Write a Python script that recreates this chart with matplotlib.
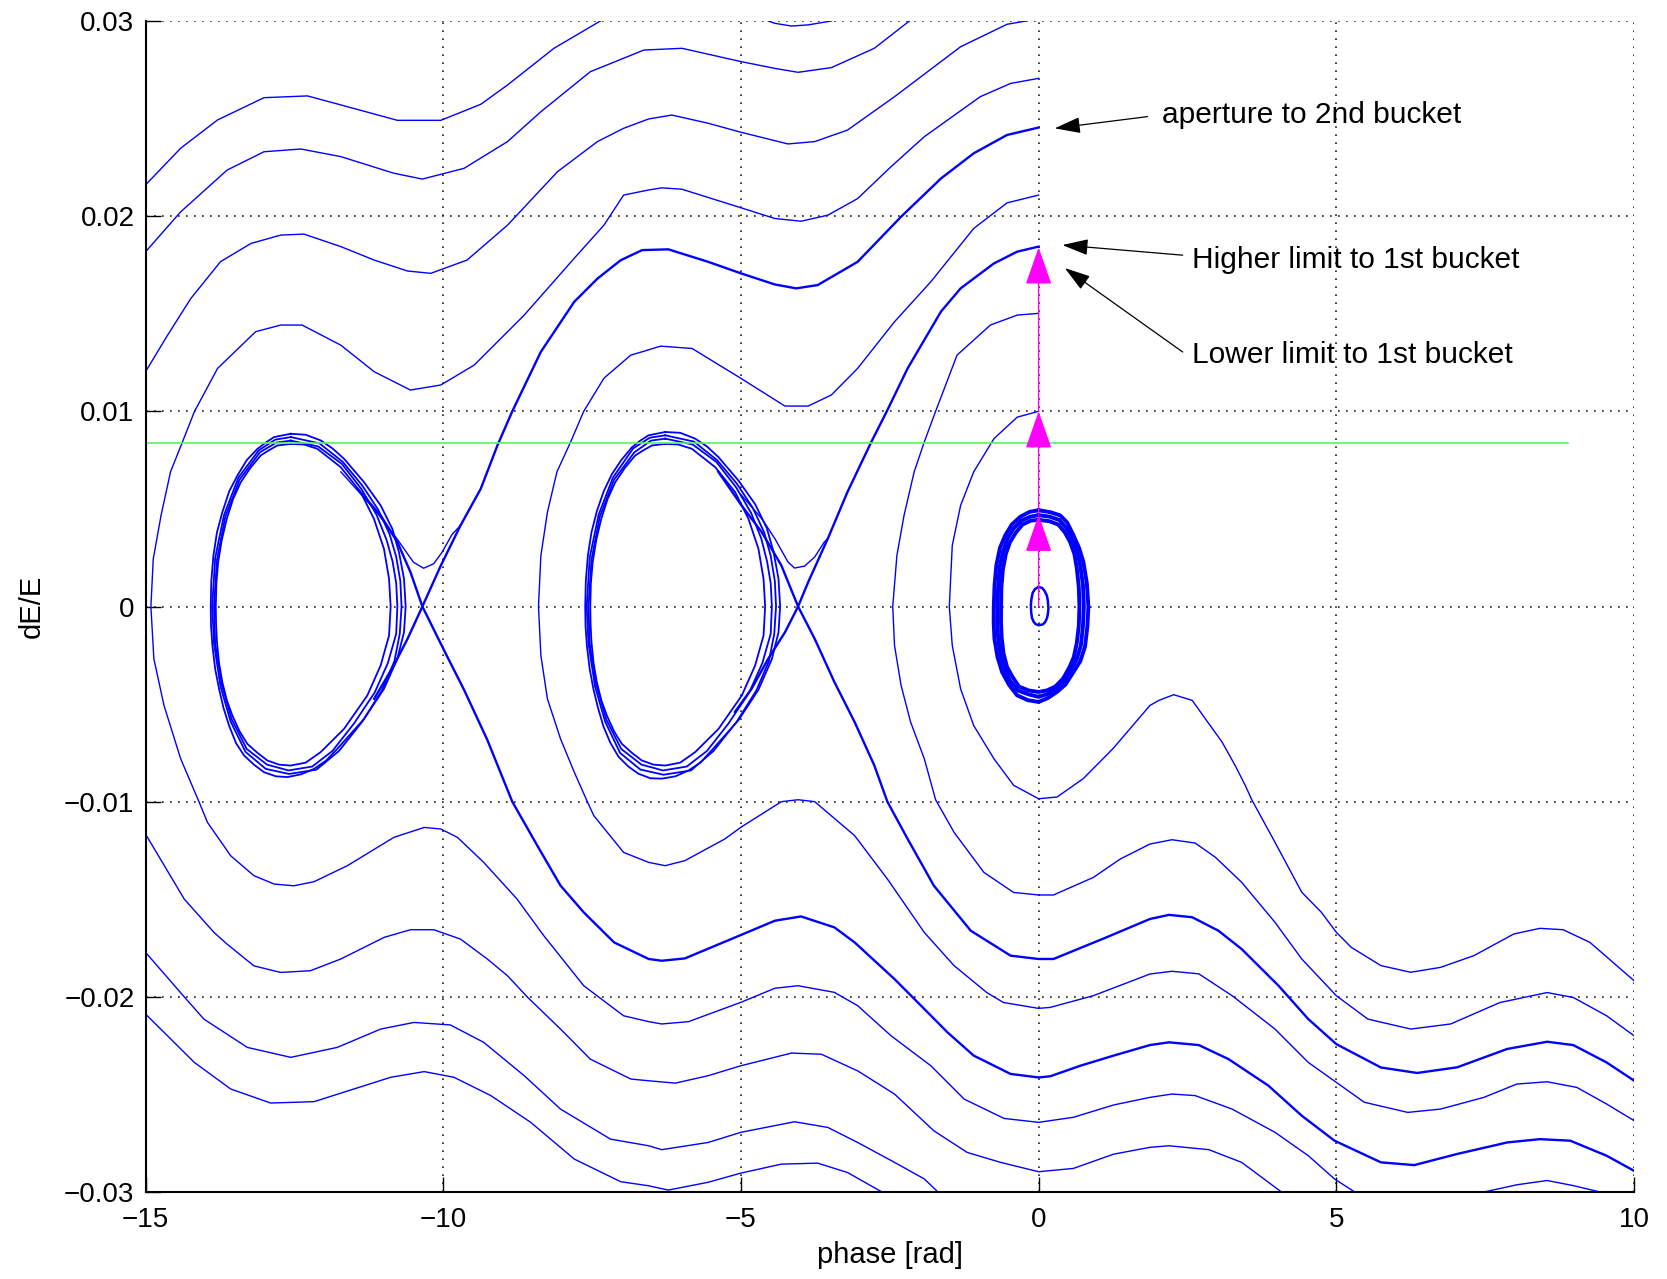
import matplotlib.pyplot as plt

plt.rcParams['font.family'] = ['Liberation Sans', 'DejaVu Sans']

# trajectories as (phase, dE/E) points
curve_A = [(-15.0, 0.0216), (-14.41, 0.02348), (-13.79, 0.02493), (-13.01, 0.02607), (-12.28, 0.02616),
           (-11.72, 0.0257), (-10.77, 0.02491), (-10.04, 0.02491), (-9.37, 0.02573), (-8.92, 0.02672),
           (-8.14, 0.0286), (-7.36, 0.0300)]
curve_A2 = [(-4.54, 0.0300), (-4.43, 0.02988), (-4.15, 0.02974), (-3.87, 0.0298), (-3.48, 0.0300)]
curve_B = [(-15.0, 0.01817), (-14.41, 0.02022), (-13.63, 0.02236), (-13.01, 0.0233), (-12.39, 0.02344),
           (-11.72, 0.02305), (-10.83, 0.0222), (-10.35, 0.0219), (-9.65, 0.02245), (-8.92, 0.02382),
           (-8.36, 0.02535), (-7.53, 0.0274), (-6.63, 0.02851), (-5.99, 0.0286), (-5.0, 0.02792),
           (-4.43, 0.02757), (-4.04, 0.02737), (-3.48, 0.02761), (-2.76, 0.0286), (-2.17, 0.0300)]
curve_C = [(-15.0, 0.01203), (-14.63, 0.0139), (-14.24, 0.01578), (-13.74, 0.01767), (-13.23, 0.0186),
           (-12.73, 0.01903), (-12.34, 0.01908), (-11.72, 0.01844), (-11.16, 0.01775), (-10.6, 0.01719),
           (-10.21, 0.01707), (-9.6, 0.01775), (-8.92, 0.01954), (-8.08, 0.02228), (-7.41, 0.02382),
           (-6.97, 0.0245), (-6.55, 0.02498), (-6.16, 0.02518), (-5.55, 0.02476), (-5.0, 0.0243),
           (-4.21, 0.0237), (-3.76, 0.02382), (-3.21, 0.02441), (-2.42, 0.02612), (-1.31, 0.02868),
           (-0.53, 0.02983), (-0.21, 0.0300)]
curve_D = [(0.0, 0.02706), (-0.47, 0.0268), (-0.98, 0.02612), (-1.92, 0.02407), (-2.48, 0.02253),
           (-3.04, 0.0209), (-3.54, 0.02005), (-3.99, 0.01974), (-4.43, 0.01988), (-5.0, 0.02043),
           (-5.99, 0.02138), (-6.33, 0.02145), (-6.55, 0.02134), (-6.97, 0.02108), (-7.3, 0.01954),
           (-7.8, 0.01784), (-8.64, 0.01493), (-9.48, 0.01237), (-10.04, 0.01135), (-10.55, 0.01109),
           (-11.16, 0.01203), (-11.72, 0.01339), (-12.37, 0.01442), (-12.73, 0.01442), (-13.15, 0.01408),
           (-13.79, 0.0122), (-14.18, 0.00998), (-14.38, 0.00843), (-14.58, 0.0069), (-14.74, 0.00466),
           (-14.87, 0.00244), (-14.91, 0.0), (-14.86, -0.00268), (-14.69, -0.00507), (-14.41, -0.0078),
           (-14.1, -0.01002), (-13.96, -0.01106), (-13.57, -0.01277), (-13.18, -0.01379), (-12.84, -0.01422),
           (-12.51, -0.01431), (-12.17, -0.0141), (-11.61, -0.01328), (-10.83, -0.01183), (-10.32, -0.01132),
           (-10.04, -0.0114), (-9.76, -0.01183), (-9.32, -0.01311), (-8.76, -0.01499), (-8.31, -0.01687),
           (-7.64, -0.01943), (-6.97, -0.02097), (-6.55, -0.02127), (-6.33, -0.02139), (-5.88, -0.02127),
           (-5.0, -0.02028), (-4.43, -0.01956), (-4.04, -0.01943), (-3.43, -0.01977), (-3.04, -0.02045),
           (-2.48, -0.02199), (-1.81, -0.02353), (-1.25, -0.02524), (-0.58, -0.02623), (0.0, -0.02643),
           (0.585, -0.02617), (1.26, -0.02554), (1.87, -0.02515), (2.24, -0.02498), (2.63, -0.02506),
           (3.25, -0.02575), (3.97, -0.02694), (4.53, -0.02814), (4.97, -0.02933), (5.31, -0.0300)]
curve_E = [(-15.0, -0.01166), (-14.35, -0.01499), (-13.85, -0.0167), (-13.63, -0.0173), (-13.18, -0.01841),
           (-12.73, -0.01875), (-12.23, -0.01866), (-11.72, -0.01806), (-10.99, -0.01695), (-10.55, -0.01656),
           (-10.16, -0.01656), (-9.71, -0.01704), (-9.26, -0.01806), (-8.92, -0.01892), (-8.59, -0.02),
           (-8.03, -0.02165), (-7.53, -0.02319), (-6.85, -0.02421), (-6.55, -0.0243), (-6.1, -0.02442),
           (-5.55, -0.02404), (-5.0, -0.02353), (-4.15, -0.02288), (-3.65, -0.02294), (-3.04, -0.02379),
           (-2.42, -0.02498), (-1.76, -0.02686), (-1.2, -0.02797), (-0.64, -0.02848), (0.0, -0.02896),
           (0.585, -0.02879), (1.26, -0.02806), (1.87, -0.02771), (2.19, -0.02763), (2.86, -0.02783),
           (3.41, -0.02848), (4.08, -0.0300)]
curve_F = [(-15.0, -0.01772), (-14.35, -0.02), (-14.02, -0.02114), (-13.29, -0.02259), (-12.56, -0.0231),
           (-11.78, -0.02259), (-11.05, -0.02165), (-10.49, -0.02131), (-9.88, -0.02144), (-9.32, -0.02233),
           (-8.64, -0.02404), (-8.03, -0.02575), (-7.19, -0.02729), (-6.55, -0.02763), (-6.33, -0.02783),
           (-5.55, -0.02746), (-5.0, -0.02694), (-4.1, -0.0264), (-3.54, -0.02669), (-3.04, -0.02746),
           (-2.42, -0.02848), (-1.92, -0.02933), (-1.69, -0.0300)]
curve_G = [(-15.0, -0.02088), (-14.18, -0.02336), (-13.57, -0.02472), (-12.9, -0.02544), (-12.17, -0.02537),
           (-10.88, -0.02412), (-10.32, -0.02383), (-9.82, -0.02412), (-9.2, -0.02506), (-8.53, -0.02643),
           (-7.8, -0.02831), (-7.02, -0.02947), (-6.55, -0.02968), (-6.22, -0.0299), (-5.55, -0.0295),
           (-5.0, -0.02903), (-4.32, -0.02857), (-3.71, -0.02852), (-3.21, -0.029), (-2.63, -0.0300)]
curve_G2 = [(7.48, -0.0300), (8.03, -0.02963), (8.54, -0.02941), (8.98, -0.02967), (9.43, -0.0300)]
curve_U5 = [(0.0, 0.02108), (-0.53, 0.02068), (-1.09, 0.01937), (-1.81, 0.01664), (-2.42, 0.01459),
            (-3.04, 0.0122), (-3.48, 0.01084), (-3.87, 0.01027), (-4.26, 0.01027), (-5.0, 0.01169),
            (-5.82, 0.01322), (-6.35, 0.01334), (-6.66, 0.01305), (-6.85, 0.01288), (-7.3, 0.0117),
            (-7.64, 0.0100), (-7.86, 0.00843), (-8.09, 0.0069), (-8.25, 0.00483), (-8.36, 0.0026),
            (-8.4, 0.0), (-8.36, -0.00251), (-8.25, -0.00473), (-8.03, -0.00678), (-7.8, -0.00848),
            (-7.58, -0.0100), (-7.47, -0.01072), (-6.97, -0.0126), (-6.55, -0.01311), (-6.27, -0.01328),
            (-5.94, -0.01302), (-5.27, -0.01191), (-5.0, -0.01131), (-4.32, -0.0100), (-4.04, -0.0099),
            (-3.76, -0.0100), (-3.09, -0.01174), (-2.54, -0.01396), (-1.92, -0.0167), (-1.42, -0.0184),
            (-0.87, -0.01978), (-0.59, -0.02029), (0.0, -0.02059), (0.195, -0.02054), (0.92, -0.01994),
            (1.87, -0.01883), (2.24, -0.01869), (2.69, -0.01882), (3.25, -0.01994), (3.97, -0.02165),
            (4.53, -0.02336), (5.0, -0.02438), (5.47, -0.0254), (6.2, -0.02592), (6.75, -0.02575),
            (7.48, -0.02515), (8.03, -0.02447), (8.54, -0.02435), (9.04, -0.02464), (9.54, -0.02549),
            (10.0, -0.02634)]
curve_V15 = [(0.0, 0.01502), (-0.36, 0.01493), (-0.81, 0.01442), (-1.37, 0.01288), (-1.73, 0.0100),
             (-1.92, 0.00843), (-2.09, 0.0069), (-2.26, 0.00467), (-2.38, 0.00262), (-2.45, 0.0),
             (-2.42, -0.002), (-2.31, -0.00404), (-2.15, -0.00592), (-1.92, -0.0078), (-1.73, -0.0099),
             (-1.42, -0.01157), (-0.92, -0.01362), (-0.42, -0.01465), (0.0, -0.01478), (0.25, -0.01478),
             (0.92, -0.01388), (1.37, -0.01294), (1.87, -0.01217), (2.24, -0.01195), (2.63, -0.01212),
             (2.97, -0.01285), (3.41, -0.01413), (3.97, -0.01618), (4.42, -0.01806), (5.0, -0.01994),
             (5.53, -0.02114), (6.25, -0.02165), (6.92, -0.02139), (7.75, -0.02029), (8.54, -0.01978),
             (8.98, -0.02003), (9.54, -0.02097), (10.0, -0.02199)]
curve_V10 = [(0.0, 0.0100), (-0.36, 0.0097), (-0.75, 0.0086), (-1.09, 0.0069), (-1.31, 0.00518),
             (-1.45, 0.00313), (-1.5, 0.0), (-1.45, -0.002), (-1.31, -0.00422), (-1.09, -0.0061),
             (-0.75, -0.0078), (-0.42, -0.00916), (0.0, -0.00985), (0.31, -0.00976), (0.75, -0.00882),
             (1.25, -0.00728), (1.87, -0.00507), (2.02, -0.00481), (2.27, -0.00452), (2.58, -0.00481),
             (2.8, -0.00575), (3.08, -0.00694), (3.3, -0.00814), (3.47, -0.00916), (3.58, -0.0099),
             (3.97, -0.01208), (4.42, -0.01464), (4.75, -0.01567), (5.0, -0.01669), (5.25, -0.01746),
             (5.75, -0.0184), (6.25, -0.01874), (6.75, -0.01849), (7.31, -0.01789), (7.98, -0.01678),
             (8.42, -0.01649), (8.81, -0.01656), (9.26, -0.01721), (9.71, -0.0184), (10.0, -0.01917)]

# separatrix-like branches (drawn heavier)
curve_S1 = [(0.0, 0.02454), (-0.53, 0.02416), (-1.09, 0.02322), (-1.64, 0.02193), (-2.31, 0.01997),
            (-3.04, 0.01766), (-3.71, 0.01647), (-4.07, 0.0163), (-4.43, 0.0165), (-5.0, 0.01707),
            (-5.55, 0.01766), (-6.22, 0.0183), (-6.66, 0.01826), (-7.02, 0.01774), (-7.41, 0.0168),
            (-7.8, 0.01561), (-8.36, 0.01305), (-8.84, 0.0100), (-9.09, 0.00825), (-9.37, 0.00603),
            (-9.71, 0.00415), (-10.04, 0.0021), (-10.35, 0.0), (-10.6, -0.00166), (-10.83, -0.00302),
            (-11.16, -0.00473)]
curve_S1_low = [(-11.44, 0.00603), (-11.05, 0.00466), (-10.77, 0.0033), (-10.55, 0.00176), (-10.35, 0.0),
                (-9.99, -0.00222), (-9.65, -0.00427), (-9.26, -0.00683), (-8.84, -0.0100), (-8.42, -0.01225),
                (-8.03, -0.0143), (-7.64, -0.01567), (-7.13, -0.01721), (-6.55, -0.01806), (-6.33, -0.01815),
                (-5.94, -0.01803), (-5.0, -0.01683), (-4.43, -0.0161), (-3.99, -0.01588), (-3.43, -0.01644),
                (-3.09, -0.01721), (-2.42, -0.01909), (-1.92, -0.02062), (-1.53, -0.02182), (-1.09, -0.02301),
                (-0.47, -0.02395), (0.0, -0.02413), (0.195, -0.02407), (0.7, -0.02353), (1.26, -0.02301),
                (1.87, -0.02247), (2.19, -0.02233), (2.69, -0.02247), (3.19, -0.02319), (3.86, -0.02455),
                (4.42, -0.02609), (4.97, -0.02737), (5.75, -0.02848), (6.31, -0.02862), (7.03, -0.02805),
                (7.87, -0.02746), (8.42, -0.02729), (8.93, -0.02737), (9.54, -0.02814), (10.0, -0.02891)]
curve_V1 = [(-11.72, 0.0069), (-11.16, 0.005), (-10.78, 0.00348), (-10.5, 0.00227), (-10.33, 0.00196),
            (-10.16, 0.00219), (-10.02, 0.00278), (-9.85, 0.0037), (-9.71, 0.00415)]
curve_S0 = [(0.0, 0.01844), (-0.36, 0.01818), (-0.75, 0.01758), (-1.31, 0.0163), (-1.64, 0.01511),
            (-2.2, 0.0122), (-2.55, 0.0100), (-2.81, 0.00843), (-3.21, 0.00587), (-3.54, 0.00348),
            (-3.87, 0.00125), (-4.04, 0.0), (-4.26, -0.00132), (-4.54, -0.00267), (-4.82, -0.00421),
            (-5.1, -0.0054)]
curve_S0_low = [(-5.38, 0.0069), (-4.99, 0.00518), (-4.65, 0.00381), (-4.32, 0.0021), (-4.04, 0.0),
                (-3.76, -0.00166), (-3.43, -0.00387), (-3.09, -0.00592), (-2.76, -0.00814), (-2.54, -0.0100),
                (-2.2, -0.01191), (-1.76, -0.0143), (-1.14, -0.01661), (-0.47, -0.01789), (0.0, -0.01806),
                (0.25, -0.01806), (1.14, -0.01695), (1.87, -0.01601), (2.19, -0.0158), (2.58, -0.01592),
                (3.02, -0.01661), (3.41, -0.01755), (4.03, -0.01943), (4.53, -0.02114), (5.0, -0.02242),
                (5.75, -0.02362), (6.36, -0.0239), (7.03, -0.02361), (7.87, -0.02267), (8.54, -0.0223),
                (8.98, -0.02247), (9.54, -0.02336), (10.0, -0.02429)]
curve_V0 = [(-4.99, 0.0057), (-4.65, 0.0045), (-4.43, 0.00348), (-4.21, 0.00228), (-4.1, 0.00197),
            (-3.93, 0.00207), (-3.76, 0.00254), (-3.6, 0.0033), (-3.54, 0.00348)]

# island loops around -4*pi
loop_L1 = [(-12.562, 0.00833), (-12.34, 0.0083), (-12.114, 0.00808), (-11.722, 0.00714), (-11.387, 0.00586),
           (-11.163, 0.00449), (-10.995, 0.00295), (-10.91, 0.00142), (-10.883, 0.0), (-10.91, -0.00149),
           (-11.051, -0.00302), (-11.275, -0.00456), (-11.666, -0.00627), (-12.058, -0.00746), (-12.31, -0.008),
           (-12.562, -0.00815), (-12.76, -0.0081), (-12.953, -0.00789), (-13.12, -0.0075), (-13.289, -0.00704),
           (-13.42, -0.0064), (-13.541, -0.00559), (-13.635, -0.0048), (-13.71, -0.00388), (-13.765, -0.0029),
           (-13.8, -0.00183), (-13.815, -0.0009), (-13.82, 0.0), (-13.81, 0.0012), (-13.78, 0.00227),
           (-13.72, 0.0034), (-13.636, 0.00449), (-13.53, 0.0055), (-13.4, 0.00637), (-13.24, 0.0071),
           (-13.065, 0.00774), (-12.93, 0.008), (-12.786, 0.00825), (-12.562, 0.00833)]
loop_L2 = [(-12.56, 0.0085), (-12.1, 0.0082), (-11.7, 0.0073), (-11.37, 0.006), (-11.12, 0.0047),
           (-10.95, 0.0034), (-10.85, 0.0023), (-10.79, 0.0012), (-10.77, 0.0), (-10.79, -0.0014),
           (-10.93, -0.0029), (-11.15, -0.0044), (-11.5, -0.006), (-11.86, -0.0074), (-12.2, -0.0082),
           (-12.6, -0.0084), (-12.96, -0.0081), (-13.3, -0.0073), (-13.55, -0.0058), (-13.72, -0.004),
           (-13.83, -0.0019), (-13.85, 0.0), (-13.8, 0.0024), (-13.66, 0.0046), (-13.42, 0.0065),
           (-13.08, 0.0079), (-12.8, 0.0084), (-12.56, 0.0085)]
loop_L3 = [(-12.56, 0.00868), (-12.08, 0.00836), (-11.69, 0.00742), (-11.36, 0.0062), (-11.09, 0.00495),
           (-10.9, 0.0037), (-10.79, 0.00255), (-10.72, 0.0013), (-10.7, 0.0), (-10.73, -0.0014),
           (-10.82, -0.0028), (-11.03, -0.0043), (-11.36, -0.0059), (-11.75, -0.0074), (-12.13, -0.00836),
           (-12.59, -0.00858), (-12.98, -0.00832), (-13.32, -0.00745), (-13.57, -0.0059), (-13.74, -0.0041),
           (-13.85, -0.0019), (-13.88, 0.0), (-13.83, 0.0025), (-13.68, 0.0047), (-13.44, 0.0066),
           (-13.1, 0.008), (-12.82, 0.00855), (-12.56, 0.00868)]
loop_L4 = [(-12.562, 0.00885), (-12.31, 0.0088), (-12.058, 0.00851), (-11.86, 0.0081), (-11.666, 0.00757),
           (-11.33, 0.00637), (-11.051, 0.00518), (-10.855, 0.00398), (-10.743, 0.00278), (-10.659, 0.00142),
           (-10.631, 0.0), (-10.659, -0.00132), (-10.771, -0.00268), (-10.995, -0.00422), (-11.33, -0.00576),
           (-11.778, -0.00729), (-11.97, -0.0079), (-12.17, -0.00832), (-12.39, -0.0086), (-12.618, -0.00874),
           (-12.81, -0.0087), (-13.01, -0.00849), (-13.18, -0.0081), (-13.345, -0.00763), (-13.48, -0.007),
           (-13.597, -0.0061), (-13.69, -0.0052), (-13.765, -0.00422), (-13.83, -0.0032), (-13.877, -0.002),
           (-13.9, -0.001), (-13.905, 0.0), (-13.895, 0.0013), (-13.86, 0.00261), (-13.8, 0.0038),
           (-13.71, 0.00483), (-13.595, 0.0059), (-13.457, 0.00671), (-13.3, 0.0075), (-13.12, 0.00808),
           (-12.98, 0.0084), (-12.842, 0.00868), (-12.562, 0.00885)]

# island loops around -2*pi
loop_R1 = [(-6.272, 0.00833), (-6.05, 0.0083), (-5.824, 0.00808), (-5.432, 0.00714), (-5.097, 0.00586),
           (-4.873, 0.00449), (-4.705, 0.00295), (-4.62, 0.00142), (-4.593, 0.0), (-4.62, -0.00149),
           (-4.761, -0.00302), (-4.985, -0.00456), (-5.376, -0.00627), (-5.768, -0.00746), (-6.02, -0.008),
           (-6.272, -0.00815), (-6.47, -0.0081), (-6.663, -0.00789), (-6.83, -0.0075), (-6.999, -0.00704),
           (-7.13, -0.0064), (-7.251, -0.00559), (-7.345, -0.0048), (-7.42, -0.00388), (-7.475, -0.0029),
           (-7.51, -0.00183), (-7.525, -0.0009), (-7.53, 0.0), (-7.52, 0.0012), (-7.49, 0.00227),
           (-7.43, 0.0034), (-7.346, 0.00449), (-7.24, 0.0055), (-7.11, 0.00637), (-6.95, 0.0071),
           (-6.775, 0.00774), (-6.64, 0.008), (-6.496, 0.00825), (-6.272, 0.00833)]
loop_R2 = [(-6.27, 0.0086), (-5.81, 0.0083), (-5.41, 0.0074), (-5.08, 0.0061), (-4.83, 0.0048),
           (-4.66, 0.0035), (-4.56, 0.0023), (-4.5, 0.0012), (-4.48, 0.0), (-4.5, -0.0014),
           (-4.64, -0.0029), (-4.86, -0.0044), (-5.21, -0.006), (-5.57, -0.0074), (-5.91, -0.0082),
           (-6.31, -0.0084), (-6.67, -0.0081), (-7.01, -0.0073), (-7.26, -0.0058), (-7.43, -0.004),
           (-7.54, -0.0019), (-7.56, 0.0), (-7.51, 0.0024), (-7.37, 0.0046), (-7.13, 0.0065),
           (-6.79, 0.0079), (-6.51, 0.0085), (-6.27, 0.0086)]
loop_R3 = [(-6.27, 0.00877), (-5.79, 0.00845), (-5.4, 0.0075), (-5.07, 0.0063), (-4.8, 0.00505),
           (-4.61, 0.0038), (-4.5, 0.0026), (-4.43, 0.0013), (-4.41, 0.0), (-4.44, -0.0014),
           (-4.53, -0.0028), (-4.74, -0.0043), (-5.07, -0.0059), (-5.46, -0.0074), (-5.84, -0.0084),
           (-6.3, -0.00862), (-6.69, -0.00835), (-7.03, -0.0075), (-7.28, -0.0059), (-7.45, -0.0041),
           (-7.56, -0.0019), (-7.59, 0.0), (-7.54, 0.0025), (-7.39, 0.0047), (-7.15, 0.0066),
           (-6.81, 0.0081), (-6.53, 0.00865), (-6.27, 0.00877)]
loop_R4 = [(-6.272, 0.00894), (-6.02, 0.0089), (-5.768, 0.0086), (-5.57, 0.0082), (-5.376, 0.00765),
           (-5.04, 0.00645), (-4.761, 0.00524), (-4.565, 0.00402), (-4.453, 0.00281), (-4.369, 0.00143),
           (-4.341, 0.0), (-4.369, -0.00133), (-4.481, -0.0027), (-4.705, -0.00426), (-5.04, -0.00582),
           (-5.488, -0.00736), (-5.68, -0.008), (-5.88, -0.0084), (-6.1, -0.0087), (-6.328, -0.00882),
           (-6.52, -0.0088), (-6.72, -0.00857), (-6.89, -0.0082), (-7.055, -0.0077), (-7.19, -0.007),
           (-7.307, -0.00616), (-7.4, -0.0052), (-7.475, -0.00426), (-7.54, -0.0032), (-7.587, -0.002),
           (-7.61, -0.001), (-7.615, 0.0), (-7.605, 0.0013), (-7.57, 0.00263), (-7.51, 0.0038),
           (-7.42, 0.00488), (-7.305, 0.0059), (-7.167, 0.00678), (-7.01, 0.0075), (-6.83, 0.00816),
           (-6.69, 0.0085), (-6.552, 0.00877), (-6.272, 0.00894)]

# bucket around phase 0
loop_C1 = [(0.0, 0.00444), (0.18, 0.00437), (0.33, 0.0042), (0.44, 0.0038), (0.53, 0.0033), (0.6, 0.0027),
           (0.64, 0.002), (0.675, 0.001), (0.686, 0.0), (0.675, -0.001), (0.64, -0.0019), (0.59, -0.0026),
           (0.52, -0.0031), (0.41, -0.0037), (0.28, -0.0041), (0.14, -0.0043), (0.0, -0.00438),
           (-0.17, -0.0043), (-0.33, -0.0041), (-0.44, -0.0036), (-0.53, -0.0031), (-0.59, -0.0024),
           (-0.62, -0.0016), (-0.632, -0.0008), (-0.63, 0.0), (-0.625, 0.001), (-0.6, 0.0019),
           (-0.55, 0.0027), (-0.48, 0.0033), (-0.38, 0.0038), (-0.27, 0.0042), (-0.13, 0.0044), (0.0, 0.00444)]
loop_C2 = [(0.0, 0.00468), (0.19, 0.0046), (0.35, 0.00443), (0.47, 0.004), (0.56, 0.0035), (0.65, 0.0028),
           (0.7, 0.0021), (0.745, 0.0011), (0.76, 0.0), (0.745, -0.001), (0.71, -0.002), (0.64, -0.0027),
           (0.55, -0.0032), (0.43, -0.0038), (0.29, -0.0042), (0.14, -0.0045), (0.0, -0.00463),
           (-0.17, -0.0045), (-0.35, -0.0043), (-0.48, -0.0038), (-0.57, -0.0032), (-0.64, -0.0025),
           (-0.68, -0.0016), (-0.695, -0.0008), (-0.69, 0.0), (-0.68, 0.001), (-0.655, 0.002),
           (-0.6, 0.0028), (-0.52, 0.0035), (-0.42, 0.004), (-0.29, 0.0044), (-0.14, 0.0046), (0.0, 0.00468)]
loop_C3 = [(0.0, 0.00493), (0.2, 0.00483), (0.362, 0.00467), (0.48, 0.0043), (0.585, 0.00365), (0.68, 0.003),
           (0.752, 0.00228), (0.81, 0.0012), (0.836, 0.0), (0.82, -0.001), (0.78, -0.00205), (0.7, -0.0028),
           (0.585, -0.00336), (0.45, -0.004), (0.307, -0.00438), (0.15, -0.0047), (0.0, -0.00489),
           (-0.18, -0.0048), (-0.362, -0.00455), (-0.5, -0.004), (-0.613, -0.00336), (-0.69, -0.0026),
           (-0.742, -0.00165), (-0.755, -0.0008), (-0.753, 0.0), (-0.74, 0.0011), (-0.71, 0.00211),
           (-0.65, 0.003), (-0.56, 0.00365), (-0.45, 0.0042), (-0.307, 0.0046), (-0.15, 0.00485), (0.0, 0.00493)]
loop_small = [(0.0, 0.001), (0.06, 0.00095), (0.1, 0.0008), (0.14, 0.00055), (0.155, 0.0003), (0.165, -0.0001),
              (0.155, -0.0004), (0.14, -0.0006), (0.11, -0.0008), (0.07, -0.00092), (0.0, -0.00096),
              (-0.05, -0.0009), (-0.08, -0.0008), (-0.11, -0.0006), (-0.125, -0.0003), (-0.13, 0.0001),
              (-0.12, 0.0004), (-0.1, 0.0007), (-0.06, 0.0009), (0.0, 0.001)]

green_x = [-15.0, 8.89]
green_y = [0.0084, 0.0084]

# magenta steps at phase 0
kick_levels = [0.0, 0.0047, 0.0100, 0.0184]

notes = [("aperture to 2nd bucket", (0.27, 0.0245), (1.83, 0.0251), (2.07, 0.02518)),
         ("Higher limit to 1st bucket", (0.40, 0.01852), (2.42, 0.0180), (2.57, 0.01775)),
         ("Lower limit to 1st bucket", (0.44, 0.01734), (2.42, 0.01304), (2.58, 0.01289))]

x_ticks = [-15, -10, -5, 0, 5, 10]
y_ticks = [-0.03, -0.02, -0.01, 0, 0.01, 0.02, 0.03]
y_labels = ['\u22120.03', '\u22120.02', '\u22120.01', '0', '0.01', '0.02', '0.03']

thin = [curve_A, curve_A2, curve_B, curve_C, curve_D, curve_E, curve_F, curve_G, curve_G2,
        curve_U5, curve_V15, curve_V10, curve_V1, curve_V0]
thick = [curve_S1, curve_S1_low, curve_S0, curve_S0_low]
islands = [loop_L1, loop_L2, loop_L3, loop_L4, loop_R1, loop_R2, loop_R3, loop_R4]
bucket = [loop_C1, loop_C2, loop_C3]

fig = plt.figure(figsize=(16.67, 12.79), dpi=100)
ax = fig.add_axes([0.0873, 0.068, 0.8929, 0.9156])

for c in thin:
    xs, ys = zip(*c)
    ax.plot(xs, ys, color='blue', lw=1.0)
for c in thick:
    xs, ys = zip(*c)
    ax.plot(xs, ys, color='blue', lw=1.7)
for c in islands:
    xs, ys = zip(*c)
    ax.plot(xs, ys, color='blue', lw=1.3)
for c in bucket:
    xs, ys = zip(*c)
    ax.plot(xs, ys, color='blue', lw=2.8)
xs, ys = zip(*loop_small)
ax.plot(xs, ys, color='blue', lw=1.8)

ax.plot(green_x, green_y, color='#5ef05e', lw=1.2)

for lo, hi in zip(kick_levels[:-1], kick_levels[1:]):
    ax.annotate('', xy=(0, hi), xytext=(0, lo),
                arrowprops=dict(arrowstyle='-|>,head_length=1.2,head_width=0.42', color='magenta',
                                lw=1.0, mutation_scale=20, shrinkA=0, shrinkB=0))

for txt, head, tail, pos in notes:
    ax.annotate('', xy=head, xytext=tail,
                arrowprops=dict(arrowstyle='-|>,head_length=0.8,head_width=0.25', color='black',
                                lw=0.9, mutation_scale=20, shrinkA=0, shrinkB=0))
    ax.text(pos[0], pos[1], txt, fontsize=21.5, ha='left', va='center')

ax.set_xlim(-15, 10)
ax.set_ylim(-0.03, 0.03)
ax.set_xticks(x_ticks)
ax.set_yticks(y_ticks)
ax.set_yticklabels(y_labels)
ax.grid(True, color='#222222', linestyle=(0, (1, 3.8)), linewidth=1.2)
ax.tick_params(direction='in', length=11, width=1, labelsize=20)
ax.tick_params(axis='y', pad=8)
ax.tick_params(axis='x', pad=11)
ax.spines['top'].set_visible(False)
ax.spines['right'].set_visible(False)
ax.spines['left'].set_linewidth(1.5)
ax.spines['bottom'].set_linewidth(1.5)
ax.set_xlabel('phase [rad]', fontsize=21)
ax.set_ylabel('dE/E', fontsize=21)
ax.xaxis.set_label_coords(0.5, -0.042)
ax.yaxis.set_label_coords(-0.067, 0.5)

fig.savefig('out.png', dpi=100)
